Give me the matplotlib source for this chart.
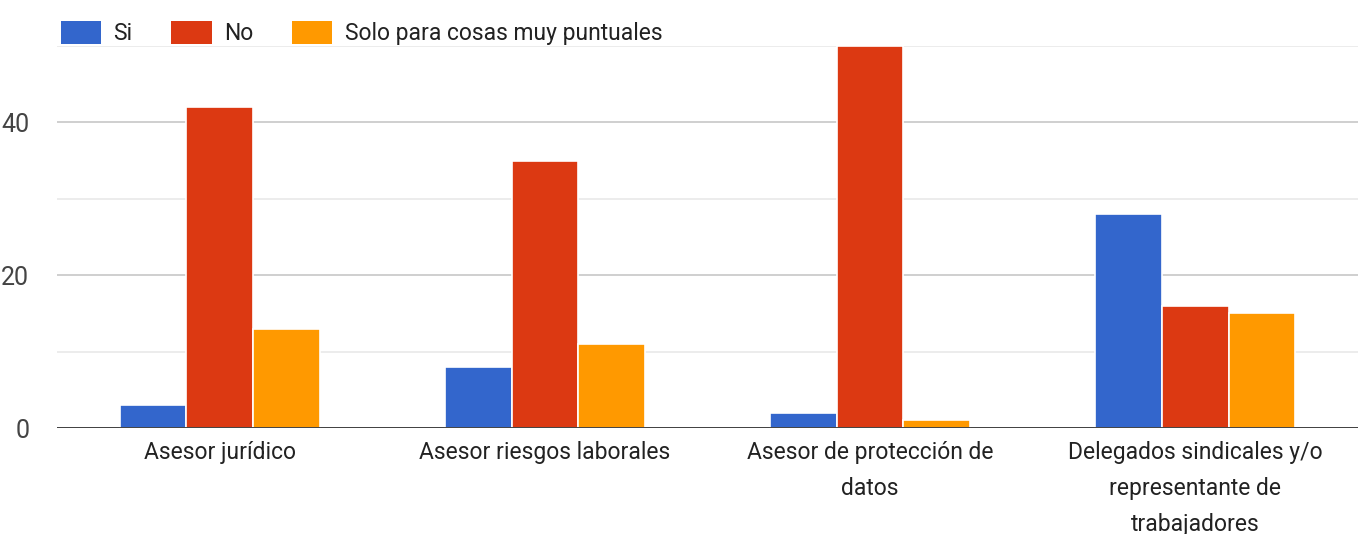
import matplotlib

matplotlib.use("Agg")
import matplotlib.pyplot as plt
import numpy as np
from matplotlib.patches import Patch

categories = [
    "Asesor jurídico",
    "Asesor riesgos laborales",
    "Asesor de protección de\ndatos",
    "Delegados sindicales y/o\nrepresentante de\ntrabajadores",
]
series_names = ["Si", "No", "Solo para cosas muy puntuales"]
si_values = [3, 8, 2, 28]
no_values = [42, 35, 50, 16]
solo_values = [13, 11, 1, 15]
colors = ["#3366cc", "#dc3912", "#ff9900"]

plt.rcParams["font.family"] = ["Roboto", "DejaVu Sans"]

fig = plt.figure(figsize=(13.62, 5.34), dpi=100)
ax = fig.add_axes([57 / 1362, 1 - 428 / 534, 1301 / 1362, 382 / 534])

x = np.arange(len(categories))
width = 0.205
for i, (vals, color) in enumerate(zip([si_values, no_values, solo_values], colors)):
    ax.bar(x + (i - 1) * width, vals, width, color=color,
           edgecolor="white", linewidth=1.2, zorder=3)

ax.set_xlim(-0.5, len(categories) - 0.5)
ax.set_ylim(0, 50)
ax.set_yticks([0, 20, 40])
ax.set_yticks([10, 30, 50], minor=True)
ax.grid(axis="y", which="major", color="#cccccc", linewidth=1.3, zorder=0)
ax.grid(axis="y", which="minor", color="#ebebeb", linewidth=1.3, zorder=0)
ax.axhline(0, color="#333333", linewidth=2, zorder=4)
ax.tick_params(axis="y", which="both", length=0, labelsize=18, labelcolor="#444444", pad=20)
ax.tick_params(axis="x", length=0, labelsize=16.5, labelcolor="#222222", pad=9)
ax.set_xticks(x)
ax.set_xticklabels(categories, linespacing=1.75)
for spine in ax.spines.values():
    spine.set_visible(False)

handles = [Patch(facecolor=c, edgecolor="none") for c in colors]
fig.legend(handles, series_names, loc="upper left", bbox_to_anchor=(40 / 1362, 1 - 0 / 534),
           ncol=3, frameon=False, fontsize=16.5, handlelength=1.75, handleheight=1.2,
           columnspacing=1.7, handletextpad=0.55, labelcolor="#222222")

fig.savefig("out.png", dpi=100)
